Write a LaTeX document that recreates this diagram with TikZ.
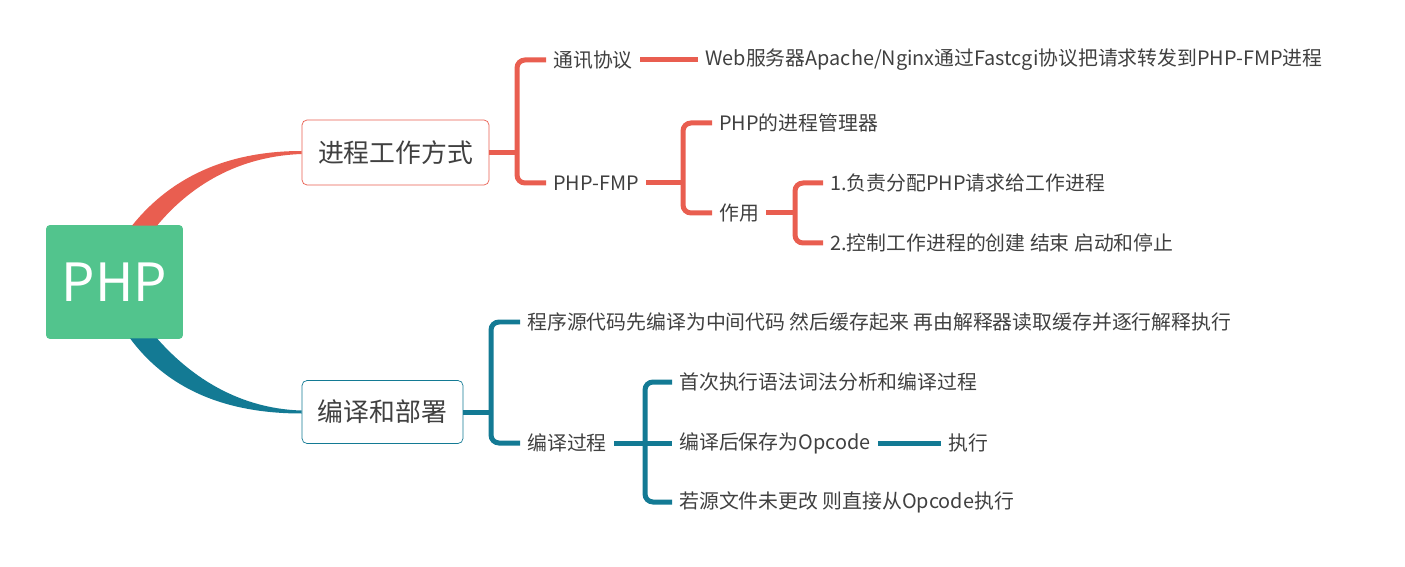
\documentclass[tikz,border=0pt]{standalone}
\usepackage{fontspec}
\setmainfont{Noto Sans CJK SC}
\usetikzlibrary{calc}

\definecolor{phpgreen}{HTML}{52C48D}
\definecolor{redl}{HTML}{E95E50}
\definecolor{bluel}{HTML}{137A94}
\definecolor{txt}{HTML}{404040}

\tikzset{
  topic/.style={draw,rounded corners=0.1cm,fill=white,text=txt,font=\fontsize{14.7}{17}\selectfont,inner sep=0pt},
  leaf/.style={anchor=west,inner xsep=0.14cm,inner ysep=0pt,text=txt,font=\fontsize{11.3}{13}\selectfont},
  redline/.style={draw=redl,line width=0.1cm},
  blueline/.style={draw=bluel,line width=0.1cm},
}

\begin{document}
\begin{tikzpicture}[x=0.02cm,y=-0.02cm]
\useasboundingbox (0,0) rectangle (1405,567);

% root and main topics
\node[fill=phpgreen,rounded corners=0.08cm,minimum width=2.74cm,minimum height=2.28cm,text=white,font=\fontsize{30}{34}\selectfont] (php) at (114.5,282) {PHP};
\node[topic,draw=redl,minimum width=3.74cm,minimum height=1.3cm] (t1) at (395.5,152.5) {进程工作方式};
\node[topic,draw=bluel,minimum width=3.22cm,minimum height=1.26cm] (t2) at (382.5,412) {编译和部署};

% ribbons from the root
\fill[redl] ($(php.north)+(17.5,1)$) .. controls (175,172) and (235,151) .. ($(t1.west)+(0,-1.5)$)
  -- ($(t1.west)+(0,1.5)$) .. controls (245,156) and (195,180) .. ($(php.north)+(42.5,1)$) -- cycle;
\fill[bluel] ($(php.south)+(15.5,-1)$) .. controls (172,395) and (235,413.5) .. ($(t2.west)+(0,1.5)$)
  -- ($(t2.west)+(0,-1.5)$) .. controls (248,409) and (198,385) .. ($(php.south)+(42.5,-1)$) -- cycle;

% first branch
\node[leaf] (tx) at (546,60) {通讯协议};
\node[leaf] (web) at (698,60) {Web服务器Apache/Nginx通过Fastcgi协议把请求转发到PHP-FMP进程};
\node[leaf] (fmp) at (546,183) {PHP-FMP};
\node[leaf] (mgr) at (712,123) {PHP的进程管理器};
\node[leaf] (use) at (712,213) {作用};
\node[leaf] (d1) at (823,183) {1.负责分配PHP请求给工作进程};
\node[leaf] (d2) at (823,243) {2.控制工作进程的创建 结束 启动和停止};

\coordinate (k1) at (517,152.5);
\coordinate (k2) at (683,183);
\coordinate (k3) at (795,213);

\draw[redline] (t1.east) -- (k1);
\draw[redline,rounded corners=0.16cm] (tx.west) -| (k1) |- (fmp.west);
\draw[redline] (tx.east) -- (web.west);
\draw[redline] (fmp.east) -- (k2);
\draw[redline,rounded corners=0.16cm] (mgr.west) -| (k2) |- (use.west);
\draw[redline] (use.east) -- (k3);
\draw[redline,rounded corners=0.16cm] (d1.west) -| (k3) |- (d2.west);

% second branch
\node[leaf] (src) at (520,322) {程序源代码先编译为中间代码 然后缓存起来 再由解释器读取缓存并逐行解释执行};
\node[leaf] (cmp) at (520,443) {编译过程};
\node[leaf] (c1) at (672,382) {首次执行语法词法分析和编译过程};
\node[leaf] (c2) at (672,443) {编译后保存为Opcode};
\node[leaf] (c3) at (672,502) {若源文件未更改 则直接从Opcode执行};
\node[leaf] (exe) at (941,443) {执行};

\coordinate (k4) at (491,412);
\coordinate (k5) at (645,443);

\draw[blueline] (t2.east) -- (k4);
\draw[blueline,rounded corners=0.16cm] (src.west) -| (k4) |- (cmp.west);
\draw[blueline] (cmp.east) -- (c2.west);
\draw[blueline,rounded corners=0.16cm] (c1.west) -| (k5) |- (c3.west);
\draw[blueline] (c2.east) -- (exe.west);

\end{tikzpicture}
\end{document}
